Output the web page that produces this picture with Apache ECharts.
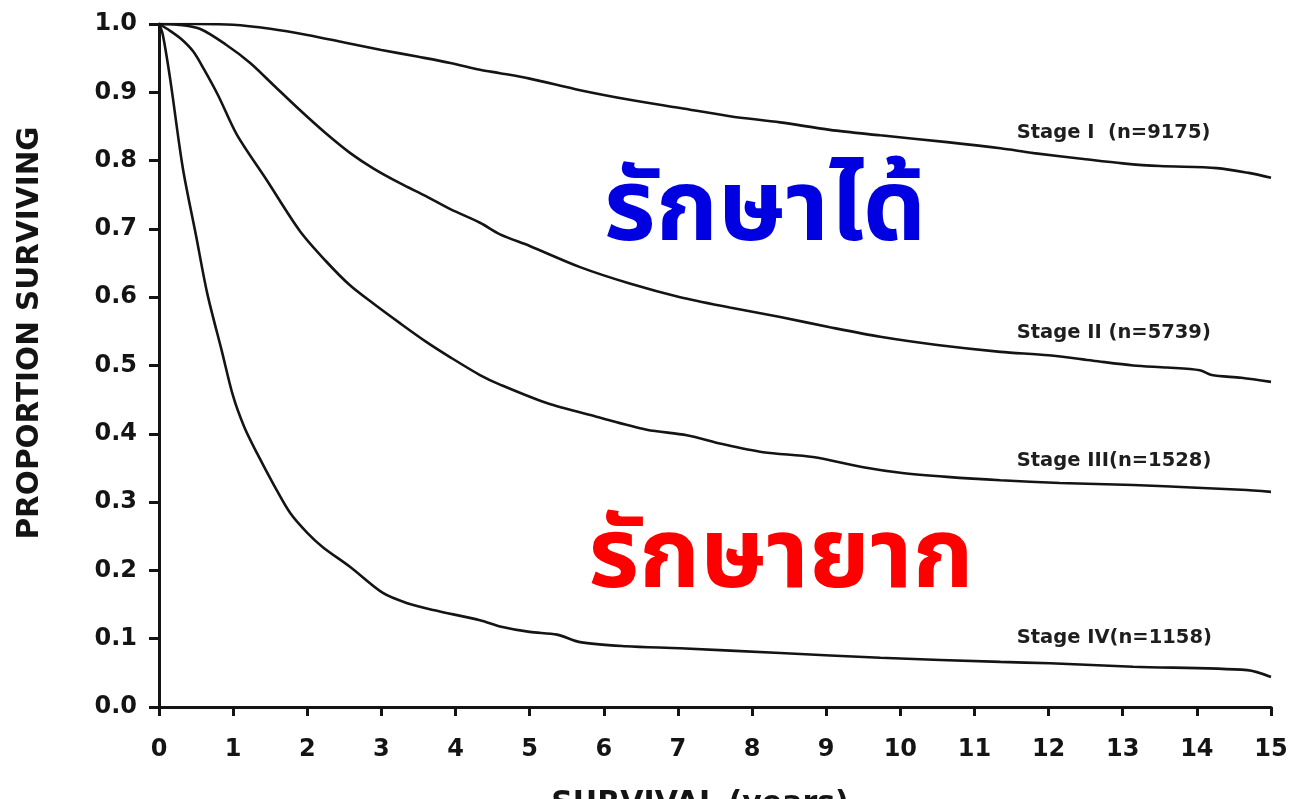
<!DOCTYPE html>
<html>
<head>
<meta charset="utf-8">
<script src="https://cdn.jsdelivr.net/npm/echarts@6/dist/echarts.min.js"></script>
<style>
html,body{margin:0;padding:0;background:#fff;}
#chart{width:1292px;height:799px;}
</style>
</head>
<body>
<div id="chart"></div>
<script>
// ---- Data ----
var xTicks = [0,1,2,3,4,5,6,7,8,9,10,11,12,13,14,15];
var yTicks = ['0.0','0.1','0.2','0.3','0.4','0.5','0.6','0.7','0.8','0.9','1.0'];

var stageLabels = ['Stage I  (n=9175)', 'Stage II (n=5739)', 'Stage III(n=1528)', 'Stage IV(n=1158)'];

var stageI = [[0,1.0],[0.5,1.0],[1,0.999],[1.5,0.993],[2,0.984],[2.5,0.973],[3,0.962],[3.5,0.952],[3.93,0.943],[4.33,0.933],[4.6,0.928],[5,0.92],[5.68,0.903],[6.35,0.889],[7.03,0.877],[7.7,0.865],[8.38,0.856],[9.05,0.845],[9.73,0.837],[10.63,0.827],[11.35,0.818],[11.8,0.811],[12.5,0.802],[13,0.796],[13.5,0.792],[14.27,0.789],[14.7,0.782],[15,0.775]];

var stageII = [[0,1.0],[0.25,0.999],[0.55,0.993],[0.9,0.97],[1.23,0.943],[1.55,0.91],[1.9,0.874],[2.25,0.84],[2.58,0.811],[2.9,0.788],[3.25,0.767],[3.6,0.748],[3.93,0.729],[4.33,0.709],[4.6,0.692],[5.0,0.675],[5.68,0.644],[6.35,0.62],[7.03,0.600],[7.7,0.585],[8.38,0.571],[9.05,0.556],[9.73,0.542],[10.5,0.53],[11.35,0.52],[12.0,0.515],[12.6,0.507],[13.14,0.500],[13.6,0.497],[14.04,0.493],[14.2,0.486],[14.6,0.482],[15,0.476]];

var stageIII = [[0,1.0],[0.15,0.99],[0.3,0.978],[0.46,0.96],[0.6,0.935],[0.8,0.895],[1.05,0.838],[1.45,0.772],[1.9,0.697],[2.25,0.653],[2.58,0.617],[2.9,0.59],[3.25,0.562],[3.6,0.535],[3.93,0.512],[4.33,0.486],[4.6,0.472],[5.23,0.445],[5.9,0.425],[6.58,0.406],[7.12,0.398],[7.6,0.385],[8.15,0.373],[8.82,0.366],[9.5,0.351],[10.0,0.343],[10.63,0.337],[11.35,0.332],[12.15,0.328],[13.14,0.325],[14,0.321],[14.6,0.318],[15,0.315]];

var stageIV = [[0,1.0],[0.05,0.985],[0.15,0.92],[0.32,0.79],[0.5,0.69],[0.65,0.606],[0.85,0.52],[1.0,0.455],[1.15,0.41],[1.32,0.372],[1.55,0.325],[1.77,0.284],[2.0,0.255],[2.21,0.234],[2.58,0.205],[3.02,0.167],[3.35,0.152],[3.7,0.142],[4.33,0.127],[4.6,0.118],[5.0,0.11],[5.37,0.106],[5.68,0.095],[6.3,0.089],[7.03,0.086],[8.38,0.079],[9.73,0.072],[11.35,0.066],[12.02,0.064],[13.14,0.059],[14.68,0.054],[15,0.044]];

var labelAnchors = [[11.57,0.84],[11.57,0.548],[11.57,0.36],[11.57,0.101]];

var treatableText = 'รักษาได้';
var hardText = 'รักษายาก';
var yTitle = 'PROPORTION SURVIVING';
var xTitle = 'SURVIVAL (years)';

// ---- Chart ----
var chart = echarts.init(document.getElementById('chart'), null, {renderer: 'canvas'});
var FONT = "'DejaVu Sans', 'Liberation Sans', sans-serif";
var THAI = "'Noto Sans Thai', 'Noto Sans', 'DejaVu Sans', sans-serif";

function mkSeries(name, data, idx) {
  return {
    name: name,
    type: 'line',
    data: data,
    showSymbol: false,
    symbol: 'none',
    smooth: 0.3,
    lineStyle: {color: '#141414', width: 2.6},
    silent: true,
    markPoint: {
      symbol: 'circle',
      symbolSize: 0,
      silent: true,
      data: [{coord: labelAnchors[idx], value: name}],
      label: {
        show: true,
        position: 'right',
        distance: 0,
        formatter: name,
        color: '#1e1e1e',
        fontFamily: FONT,
        fontWeight: 'bold',
        fontSize: 19.5
      }
    }
  };
}

var option = {
  backgroundColor: '#fff',
  animation: false,
  grid: {left: 159, right: 21, top: 24, bottom: 92, containLabel: false},
  xAxis: {
    type: 'value',
    min: 0, max: 15, interval: 1,
    axisLine: {show: true, lineStyle: {color: '#141414', width: 3}},
    axisTick: {show: true, length: 9, lineStyle: {color: '#141414', width: 3}},
    axisLabel: {
      margin: 31, color: '#141414', fontFamily: FONT, fontWeight: 'bold', fontSize: 24,
      formatter: function (v) { return xTicks.indexOf(v) >= 0 ? String(v) : ''; }
    },
    splitLine: {show: false}
  },
  yAxis: {
    type: 'value',
    min: 0, max: 1, interval: 0.1,
    axisLine: {show: true, lineStyle: {color: '#141414', width: 3}},
    axisTick: {show: true, length: 10, lineStyle: {color: '#141414', width: 3}},
    axisLabel: {
      margin: 22, color: '#141414', fontFamily: FONT, fontWeight: 'bold', fontSize: 24,
      formatter: function (v) { return yTicks[Math.round(v * 10)]; }
    },
    splitLine: {show: false}
  },
  series: [
    mkSeries(stageLabels[0], stageI, 0),
    mkSeries(stageLabels[1], stageII, 1),
    mkSeries(stageLabels[2], stageIII, 2),
    mkSeries(stageLabels[3], stageIV, 3)
  ],
  graphic: [
    {
      type: 'text', silent: true,
      x: 30, y: 333, rotation: Math.PI / 2,
      style: {text: yTitle, x: 0, y: 0, align: 'center', verticalAlign: 'middle',
        fill: '#141414', font: 'bold 29.5px ' + FONT}
    },
    {
      type: 'text', silent: true, x: 700, y: 789,
      style: {text: xTitle, align: 'center', verticalAlign: 'top',
        fill: '#141414', font: 'bold 30px ' + FONT}
    },
    {
      type: 'text', silent: true, x: 765, y: 270,
      style: {text: treatableText, align: 'center', verticalAlign: 'bottom',
        fill: '#0000e0', font: 'bold 100px ' + THAI}
    },
    {
      type: 'text', silent: true, x: 781, y: 616,
      style: {text: hardText, align: 'center', verticalAlign: 'bottom',
        fill: '#ff0000', font: 'bold 98px ' + THAI}
    }
  ]
};
chart.setOption(option);
</script>
</body>
</html>
